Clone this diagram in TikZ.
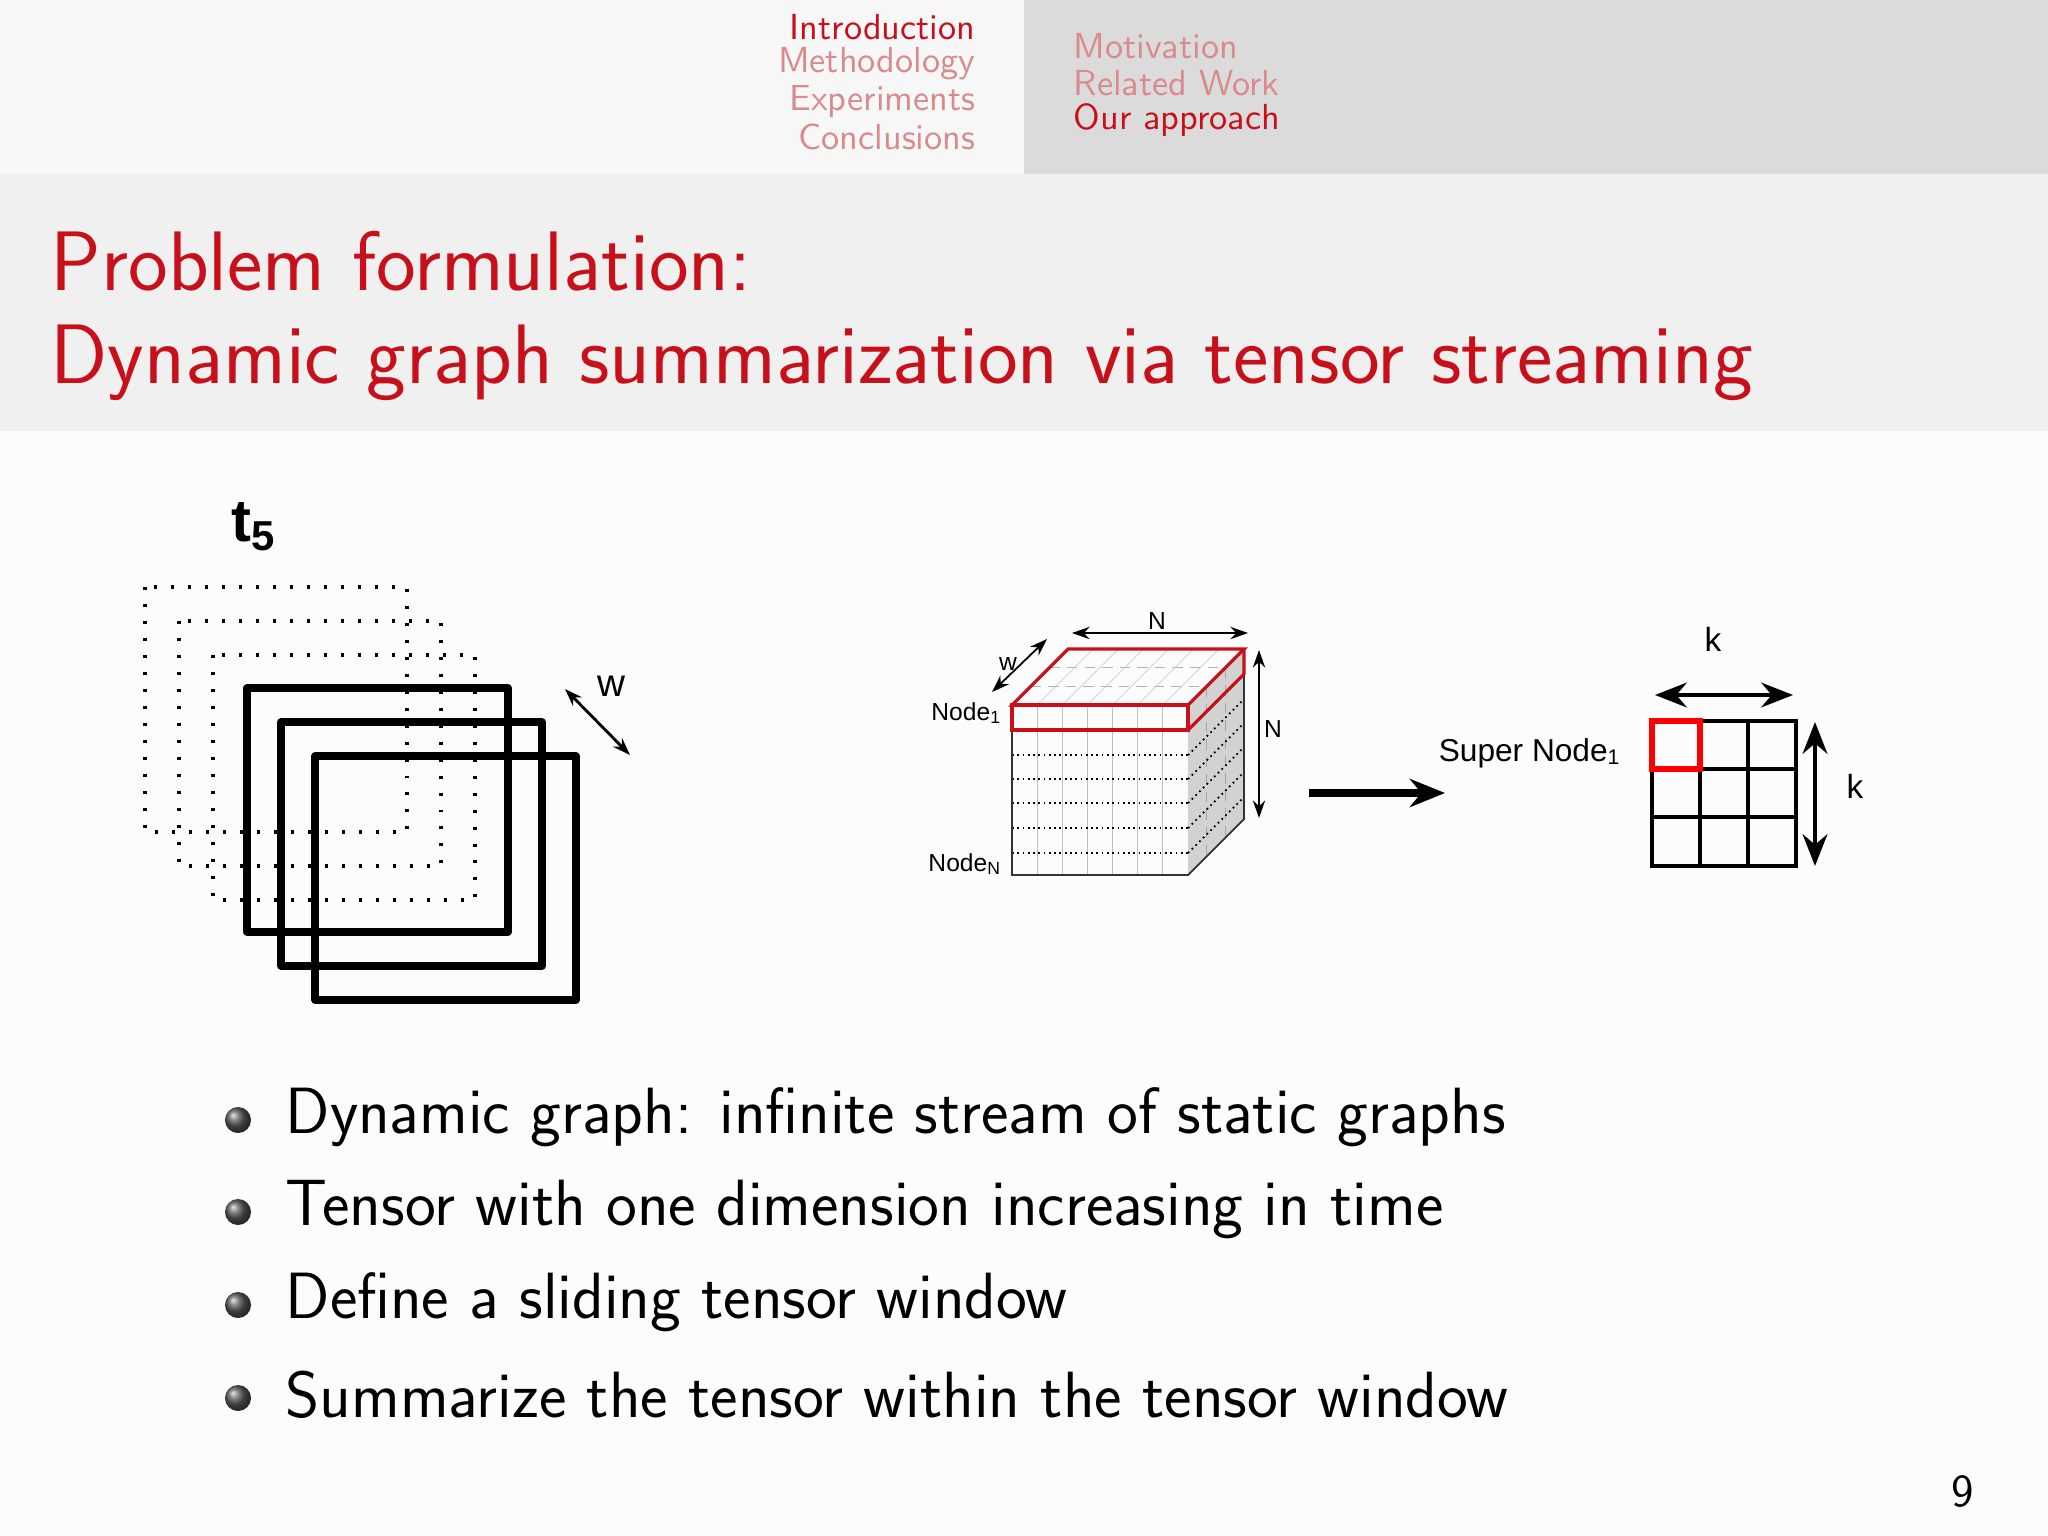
\documentclass[tikz,border=0pt]{standalone}
\usepackage{fontspec}
\newfontfamily\figfont{Liberation Sans}
\usetikzlibrary{arrows.meta,calc}
\definecolor{bred}{HTML}{C8101A}
\definecolor{hpink}{HTML}{D98A8C}
\tikzset{
  px/.style={x=0.01cm,y=-0.01cm},
  hdr/.style={anchor=east,font=\sffamily\fontsize{10.3}{12}\selectfont,inner sep=0},
  hdl/.style={anchor=west,font=\sffamily\fontsize{10.3}{12}\selectfont,inner sep=0},
  ttl/.style={anchor=west,text=bred,font=\sffamily\fontsize{24}{28}\selectfont,inner sep=0},
  bul/.style={anchor=west,font=\sffamily\fontsize{18.6}{22}\selectfont,inner sep=0},
  dotr/.style={line width=0.91pt,dash pattern=on 0.85pt off 3.98pt},
  solr/.style={line width=2pt,line join=round},
  figl/.style={font=\figfont\fontsize{7}{8}\selectfont,inner sep=1pt},
  dimar/.style={{Stealth[length=5pt,width=3.5pt]}-{Stealth[length=5pt,width=3.5pt]},line width=0.5pt},
  ball/.style={circle,inner sep=0,minimum size=7.4pt,shading=ball,ball color=gray!70!black}
}
\begin{document}
\begin{tikzpicture}[px]
\fill[white!98!gray] (0,0) rectangle (2048,1536);
\useasboundingbox (0,0) rectangle (2048,1536);
\fill[white!94!gray] (0,0) rectangle (1024,174);
\fill[white!72!gray] (1024,0) rectangle (2048,174);
\fill[white!88!gray] (0,174) rectangle (2048,431);
% header
\node[hdr,text=bred] (h1) at (976,27) {Introduction};
\node[hdr,text=hpink] (h2) at (976,64) {Methodology};
\node[hdr,text=hpink] (h3) at (976,101) {Experiments};
\node[hdr,text=hpink] (h4) at (976,137) {Conclusions};
\node[hdl,text=hpink] (s1) at (1073,46) {Motivation};
\node[hdl,text=hpink] (s2) at (1073,83) {Related Work};
\node[hdl,text=bred] (s3) at (1073,120) {Our approach};
% title
\node[ttl] (t1) at (50,261) {Problem formulation:};
\node[ttl] (t2) at (50,363) {Dynamic graph summarization via tensor streaming};
% left figure
\node[font=\figfont\bfseries\fontsize{17}{20}\selectfont,inner sep=0] (t5) at (254,527) {t\textsubscript{5}};
\draw[dotr] (145,587) rectangle (407,832);
\draw[dotr] (179,621) rectangle (441,866);
\draw[dotr] (213,655) rectangle (475,900);
\draw[solr] (247,688) rectangle (508,932);
\draw[solr] (281,722) rectangle (542,966);
\draw[solr] (315,756) rectangle (576,1000);
\coordinate (wa) at (565,689); \coordinate (wb) at (630,755);
\draw[dimar,line width=0.8pt] (wa) -- (wb);
\node[font=\figfont\fontsize{11}{13}\selectfont] (wl) at (611,686) {w};
% cube
\fill[gray!35] (1188,705) -- (1244,649) -- (1244,819) -- (1188,875) -- cycle;
\foreach \i in {1,2} {
  \draw[gray!70,densely dashed,line width=0.3pt] ($(1188,705)+(\i*56/3,-\i*56/3)$) -- ++(0,170);
  \draw[gray!60,line width=0.3pt,densely dashed] ($(1012,705)+(\i*56/3,-\i*56/3)$) -- ++(176,0);
}
\foreach \j in {1,...,6} {
  \draw[gray!50,line width=0.3pt] ($(1012,705)+(\j*176/7,0)$) -- ++(0,170);
  \draw[gray!40,line width=0.2pt] ($(1012,705)+(\j*176/7,0)$) -- ++(56,-56);
}
\foreach \y in {755,779,803,828,853} {
  \draw[densely dotted,line width=0.5pt] (1012,\y) -- (1188,\y);
  \draw[densely dotted,line width=0.5pt] (1188,\y) -- ++(56,-56);
}
\draw[line width=0.5pt,gray!40!black] (1012,705) -- (1012,875) -- (1188,875) -- (1244,819) -- (1244,649);
\draw[bred,line width=0.9pt] (1012,705) -- (1068,649) -- (1244,649) -- (1188,705) -- cycle;
\draw[bred,line width=0.9pt] (1012,705) rectangle (1188,730);
\draw[bred,line width=0.9pt] (1188,730) -- (1244,674) -- (1244,649);
\coordinate (na) at (1072,633); \coordinate (nb) at (1248,633);
\draw[dimar] (na) -- (nb);
\node[figl] (nl) at (1157,621) {N};
\coordinate (nc) at (1259,650); \coordinate (nd) at (1259,818);
\draw[dimar] (nc) -- (nd);
\node[figl] (nl2) at (1273,729) {N};
\coordinate (wc) at (992,692); \coordinate (wd) at (1047,639);
\draw[dimar] (wc) -- (wd);
\node[figl] (wl2) at (1008,664) {w};
\node[figl,anchor=east] (n1) at (1006,713) {Node\textsubscript{1}};
\node[figl,anchor=east] (nn) at (1006,864) {Node\textsubscript{N}};
% arrow
\coordinate (aa) at (1309,793); \coordinate (ab) at (1445,793);
\draw[line width=2.2pt,-{Stealth[length=10pt,width=8pt]}] (aa) -- (ab);
\node[font=\figfont\fontsize{9}{11}\selectfont] (sn) at (1530,753) {Super Node\textsubscript{1}};
% grid
\draw[line width=1.4pt] (1652,721) rectangle (1796,866);
\foreach \x in {1700,1748} \draw[line width=1.4pt] (\x,721) -- (\x,866);
\foreach \y in {769,817} \draw[line width=1.4pt] (1652,\y) -- (1796,\y);
\draw[red,line width=1.6pt] (1652,721) rectangle (1700,769);
\coordinate (ka) at (1655,695); \coordinate (kb) at (1793,695);
\draw[{Stealth[length=9pt,width=7pt]}-{Stealth[length=9pt,width=7pt]},line width=1.3pt] (ka) -- (kb);
\node[font=\figfont\fontsize{9.5}{11}\selectfont] (kl) at (1713,639) {k};
\coordinate (kc) at (1815,722); \coordinate (kd) at (1815,866);
\draw[{Stealth[length=9pt,width=7pt]}-{Stealth[length=9pt,width=7pt]},line width=1.3pt] (kc) -- (kd);
\node[font=\figfont\fontsize{9.5}{11}\selectfont] (kl2) at (1855,786) {k};
% bullets
\foreach \y/\t [count=\n] in {1117/{Dynamic graph: infinite stream of static graphs},1209/{Tensor with one dimension increasing in time},1302/{Define a sliding tensor window},1395/{Summarize the tensor within the tensor window}} {
  \node[ball] (b\n) at (238,\y+3) {};
  \node[bul] (bt\n) at (285,\y) {\t};
}
\node[font=\sffamily\fontsize{13}{15}\selectfont] (pg) at (1963,1492) {9};
\end{tikzpicture}
\end{document}
